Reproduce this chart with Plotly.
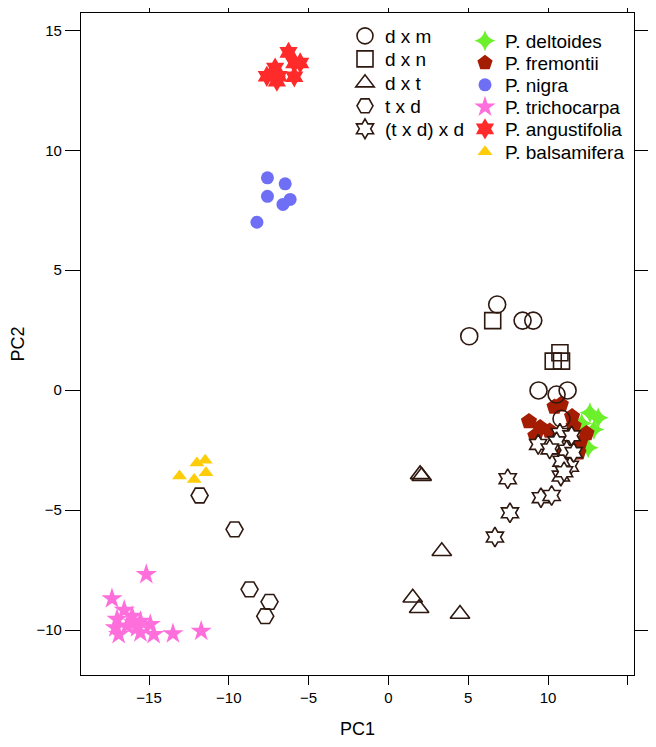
import plotly.graph_objects as go

# crosses (open symbols)
dxm_x = [5.06, 6.81, 8.4, 9.07, 9.4, 10.53, 11.22, 10.84]
dxm_y = [2.25, 3.57, 2.9, 2.9, -0.01, -0.18, -0.01, -1.19]
dxn_x = [6.53, 10.74, 10.32, 10.84]
dxn_y = [2.9, 1.56, 1.21, 1.21]
dxt_x = [1.98, 2.08, 3.34, 1.52, 1.92, 4.48]
dxt_y = [-3.51, -3.58, -6.71, -8.65, -9.09, -9.33]
txd_x = [-11.83, -9.64, -8.7, -7.45, -7.72]
txd_y = [-4.39, -5.8, -8.3, -8.82, -9.42]
txdxd_x = [7.47, 7.61, 6.67, 9.55, 10.22, 10.8, 9.38, 11.36, 10.84, 11.05, 10.74, 11.47, 10.53, 11.16, 10.1, 11.0, 11.6]
txdxd_y = [-3.69, -5.11, -6.12, -4.48, -4.39, -3.58, -2.26, -3.17, -2.96, -2.05, -1.8, -1.9, -2.15, -2.5, -2.45, -3.4, -2.6]

# species (filled symbols)
delt_x = [12.62, 13.14, 12.1, 12.87, 12.51]
delt_y = [-0.94, -1.15, -1.39, -1.64, -2.4]
frem_x = [8.8, 9.5, 9.2, 10.1, 10.4, 10.8, 11.5, 11.6, 10.8, 11.4, 12.0, 12.4, 11.9, 10.5]
frem_y = [-1.3, -1.55, -1.9, -1.7, -0.7, -0.6, -1.1, -1.5, -2.1, -2.3, -2.2, -1.8, -2.6, -2.4]
nigra_x = [-7.58, -6.47, -7.58, -6.16, -6.61, -8.24]
nigra_y = [8.85, 8.6, 8.08, 7.95, 7.74, 7.0]
trich_x = [-15.17, -17.32, -16.55, -17.0, -16.06, -15.54, -14.92, -17.11, -16.38, -15.75, -16.9, -15.54, -14.71, -13.5, -11.73, -15.96]
trich_y = [-7.68, -8.69, -9.17, -9.55, -9.42, -9.63, -9.76, -9.9, -9.83, -9.9, -10.18, -10.11, -10.18, -10.15, -10.04, -9.69]
ang_x = [-6.26, -5.53, -5.9, -7.1, -7.62, -6.89, -6.99, -5.9]
ang_y = [14.08, 13.64, 13.64, 13.43, 13.08, 13.08, 12.88, 13.06]
bals_x = [-13.09, -12.0, -11.48, -11.43, -12.17]
bals_y = [-3.58, -3.03, -2.92, -3.44, -3.72]

xtick_vals = [-15, -10, -5, 0, 5, 10, 15]
xtick_text = ["\u221215", "\u221210", "\u22125", "0", "5", "10", ""]
ytick_vals = [-10, -5, 0, 5, 10, 15]

brown = "#2e1810"
fig = go.Figure()

# page body has an 8px margin, so the figure is a bit smaller and margins shifted
W, H = 640, 731
ML, MR, MT, MB = 73, 14, 5, 64
PW, PH = W - ML - MR, H - MT - MB

# each legend entry gets its own small legend box so rows can sit tight like the original
legends = {}
def legend_box(n, xpix, ypix):
    key = "legend" + ("" if n == 1 else str(n))
    legends[key] = dict(
        x=(xpix - 81) / PW, y=1 - (ypix - 13) / PH, xanchor="left", yanchor="middle",
        bgcolor="rgba(0,0,0,0)", font=dict(size=19), itemsizing="trace")
    return key

species = [
    ("P. deltoides", delt_x, delt_y, "star-diamond", "#6cf02c", 15),
    ("P. fremontii", frem_x, frem_y, "pentagon", "#a41c02", 17),
    ("P. nigra", nigra_x, nigra_y, "circle", "#6f6ff6", 13),
    ("P. trichocarpa", trich_x, trich_y, "star", "#ff6fdc", 16),
    ("P. angustifolia", ang_x, ang_y, "hexagram", "#ff2a2a", 16),
    ("P. balsamifera", bals_x, bals_y, "triangle-up", "#ffcc0a", 13),
]
rows2 = [41, 63, 85, 107, 129, 152]
for i, (name, xs, ys, sym, col, sz) in enumerate(species):
    lg = legend_box(6 + i, 465, rows2[i])
    fig.add_trace(go.Scatter(x=xs, y=ys, mode="markers", name=name, legend=lg,
                             marker=dict(symbol=sym, color=col, size=sz, line=dict(width=0))))

crosses = [
    ("d x m", dxm_x, dxm_y, "circle-open", 17),
    ("d x n", dxn_x, dxn_y, "square-open", 16),
    ("d x t", dxt_x, dxt_y, "triangle-up-open", 17),
    ("t x d", txd_x, txd_y, "hexagon2-open", 17),
]
rows1 = [36, 59, 83, 106, 129]
for i, (name, xs, ys, sym, sz) in enumerate(crosses):
    lg = legend_box(1 + i, 345, rows1[i])
    fig.add_trace(go.Scatter(x=xs, y=ys, mode="markers", name=name, legend=lg,
                             marker=dict(symbol=sym, color=brown, size=sz, line=dict(width=1.6, color=brown))))
lg = legend_box(5, 345, rows1[4])
fig.add_trace(go.Scatter(x=txdxd_x, y=txdxd_y, mode="markers", name="(t x d) x d", legend=lg,
                         marker=dict(symbol="hexagram", color="white", size=15, line=dict(width=1.6, color=brown))))

fig.update_layout(
    width=W, height=H,
    margin=dict(l=ML, r=MR, t=MT, b=MB, autoexpand=False),
    paper_bgcolor="white", plot_bgcolor="white",
    font=dict(family="Liberation Sans, Arial, sans-serif", color="black", size=15),
    showlegend=True,
    **legends,
)
fig.update_xaxes(range=[-19.26, 15.38], tickvals=xtick_vals, ticktext=xtick_text,
                 ticks="outside", ticklen=9, tickwidth=1.2, tickcolor="black",
                 showline=True, linecolor="black", linewidth=1.3, mirror="ticks",
                 showgrid=False, zeroline=False, automargin=False,
                 title=dict(text="PC1", font=dict(size=18), standoff=18))
fig.update_yaxes(range=[-11.87, 15.72], tickvals=ytick_vals,
                 ticks="outside", ticklen=15, tickwidth=1.2, tickcolor="black",
                 showline=True, linecolor="black", linewidth=1.3, mirror="ticks",
                 showgrid=False, zeroline=False, automargin=False,
                 title=dict(text="PC2", font=dict(size=18), standoff=11))

fig.write_html("out.html")
